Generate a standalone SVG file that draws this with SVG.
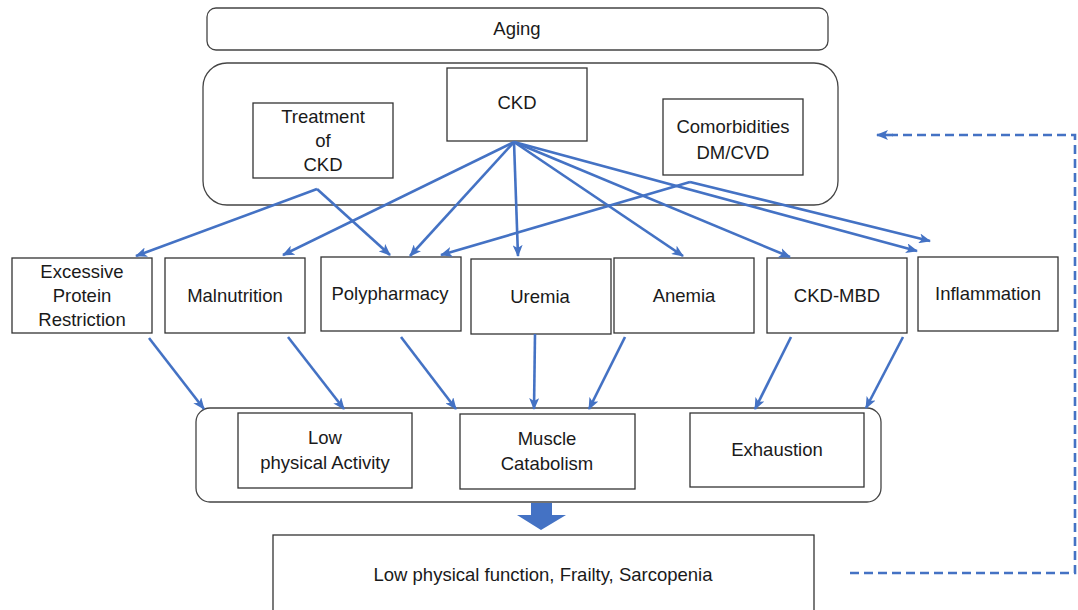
<svg xmlns="http://www.w3.org/2000/svg" width="1078" height="610" viewBox="0 0 1078 610">
<defs>
<marker id="ah" viewBox="0 0 12 10" refX="11" refY="5" markerWidth="12" markerHeight="10" markerUnits="userSpaceOnUse" orient="auto">
<path d="M0,0 L12,5 L0,10 L3,5 Z" fill="#4472C4"/>
</marker>
<style>
.box{fill:#fff;stroke:#333;stroke-width:1.3}
.cont{fill:#fff;stroke:#444;stroke-width:1.3}
.t{font-family:"Liberation Sans",Arial,sans-serif;font-size:18.5px;fill:#1a1a1a;text-anchor:middle;dominant-baseline:middle}
.c{fill:none;stroke:#4472C4;stroke-width:2.6;marker-end:url(#ah)}
.d{fill:none;stroke:#4472C4;stroke-width:2.6;stroke-dasharray:9,5}
</style>
</defs>
<rect width="1078" height="610" fill="#fff"/>
<g id="aging"><rect class="cont" x="207" y="8" width="621" height="42" rx="9"/><text class="t" x="517" y="30">Aging</text></g>
<g id="ckd-group"><rect class="cont" x="203" y="63" width="635" height="142" rx="24"/></g>
<g id="treatment"><rect class="box" x="253" y="103" width="140" height="75"/><text class="t" x="323" y="118">Treatment</text><text class="t" x="323" y="142">of</text><text class="t" x="323" y="166">CKD</text></g>
<g id="ckd"><rect class="box" x="447" y="68" width="140" height="73"/><text class="t" x="517" y="104">CKD</text></g>
<g id="comorbidities"><rect class="box" x="663" y="99" width="140" height="76"/><text class="t" x="733" y="128">Comorbidities</text><text class="t" x="733" y="154">DM/CVD</text></g>
<g id="excessive"><rect class="box" x="12" y="258" width="140" height="75"/><text class="t" x="82" y="273">Excessive</text><text class="t" x="82" y="297">Protein</text><text class="t" x="82" y="321">Restriction</text></g>
<g id="malnutrition"><rect class="box" x="165" y="258" width="140" height="75"/><text class="t" x="235" y="297">Malnutrition</text></g>
<g id="polypharmacy"><rect class="box" x="321" y="257" width="140" height="74"/><text class="t" x="390" y="295">Polypharmacy</text></g>
<g id="uremia"><rect class="box" x="471" y="259" width="140" height="75"/><text class="t" x="540" y="298">Uremia</text></g>
<g id="anemia"><rect class="box" x="614" y="258" width="140" height="75"/><text class="t" x="684" y="297">Anemia</text></g>
<g id="ckd-mbd"><rect class="box" x="767" y="258" width="140" height="75"/><text class="t" x="837" y="297">CKD-MBD</text></g>
<g id="inflammation"><rect class="box" x="918" y="257" width="140" height="74"/><text class="t" x="988" y="295">Inflammation</text></g>
<g id="outcomes"><rect class="cont" x="196" y="408" width="685" height="94" rx="14"/></g>
<g id="low-activity"><rect class="box" x="238" y="413" width="174" height="75"/><text class="t" x="325" y="439">Low</text><text class="t" x="325" y="464">physical Activity</text></g>
<g id="muscle"><rect class="box" x="460" y="414" width="175" height="75"/><text class="t" x="547" y="440">Muscle</text><text class="t" x="547" y="465">Catabolism</text></g>
<g id="exhaustion"><rect class="box" x="690" y="413" width="174" height="74"/><text class="t" x="777" y="451">Exhaustion</text></g>
<g id="final"><rect class="box" x="273" y="535" width="541" height="80"/><text class="t" x="543" y="576">Low physical function, Frailty, Sarcopenia</text></g>
<g id="connectors">
<path d="M531,503 H552 V515 H566 L541,530 L517,515 H531 Z" fill="#4472C4"/>
<path class="c" d="M317,189 L136,256"/>
<path class="c" d="M317,189 L390,255"/>
<path class="c" d="M514,142 L283,255"/>
<path class="c" d="M514,142 L410,256"/>
<path class="c" d="M514,142 L518,256"/>
<path class="c" d="M514,142 L683,256"/>
<path class="c" d="M514,142 L790,257"/>
<path class="c" d="M514,142 L917,251"/>
<path class="c" d="M690,182 L441,255"/>
<path class="c" d="M690,182 L930,241"/>
<path class="c" d="M149,338 L204,409"/>
<path class="c" d="M288,337 L344,409"/>
<path class="c" d="M401,337 L456,409"/>
<path class="c" d="M535,334 L534,409"/>
<path class="c" d="M625,337 L589,409"/>
<path class="c" d="M791,337 L755,409"/>
<path class="c" d="M903,337 L866,408"/>
<path class="d" d="M850,573 H1075 V135 H892"/>
<path class="c" d="M893,135 L877,135"/>
</g>
</svg>
